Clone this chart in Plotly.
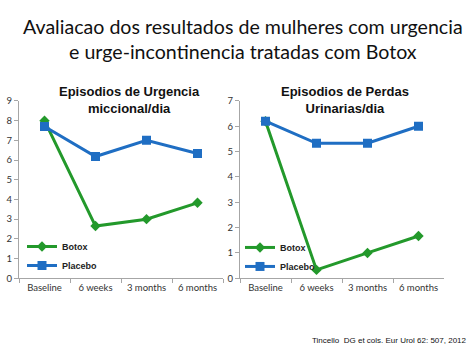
import plotly.graph_objects as go

categories = ["Baseline", "6 weeks", "3 months", "6 months"]
urg_botox = [8.0, 2.65, 3.0, 3.83]
urg_placebo = [7.7, 6.18, 7.0, 6.33]
perd_botox = [6.2, 0.33, 1.0, 1.67]
perd_placebo = [6.2, 5.33, 5.33, 6.0]

GREEN = "#23992B"
BLUE = "#1F6EC3"
W, H = 474, 354

def px(x):
    return x / W

def py(y):
    return 1 - y / H

fig = go.Figure()
fig.add_trace(go.Scatter(x=categories, y=urg_botox, name="<b>Botox</b>", mode="lines+markers",
                         line=dict(color=GREEN, width=3), marker=dict(symbol="diamond", size=8, color=GREEN),
                         xaxis="x", yaxis="y", legend="legend"))
fig.add_trace(go.Scatter(x=categories, y=urg_placebo, name="<b>Placebo</b>", mode="lines+markers",
                         line=dict(color=BLUE, width=3), marker=dict(symbol="square", size=9, color=BLUE),
                         xaxis="x", yaxis="y", legend="legend"))
fig.add_trace(go.Scatter(x=categories, y=perd_botox, name="<b>Botox</b>", mode="lines+markers",
                         line=dict(color=GREEN, width=3), marker=dict(symbol="diamond", size=8, color=GREEN),
                         xaxis="x2", yaxis="y2", legend="legend2"))
fig.add_trace(go.Scatter(x=categories, y=perd_placebo, name="<b>Placebo</b>", mode="lines+markers",
                         line=dict(color=BLUE, width=3), marker=dict(symbol="square", size=9, color=BLUE),
                         xaxis="x2", yaxis="y2", legend="legend2"))

tickfont = dict(family="Lato", size=9.5, color="#333333")
xcommon = dict(type="category", range=[-0.5, 3.5], showline=True, linecolor="#A6A6A6", linewidth=1,
               ticks="outside", ticklen=4, tickcolor="#A6A6A6", tickson="boundaries",
               showgrid=False, zeroline=False, tickfont=tickfont, fixedrange=True)
ycommon = dict(showline=True, linecolor="#A6A6A6", linewidth=1, ticks="outside", ticklen=4,
               tickcolor="#A6A6A6", showgrid=False, zeroline=False, dtick=1, tickfont=tickfont,
               fixedrange=True)

legend_common = dict(font=dict(family="Liberation Sans", size=9, color="#222222"), bgcolor="rgba(0,0,0,0)",
                     itemwidth=30, tracegroupgap=0, xanchor="left", yanchor="middle")

fig.update_layout(
    width=W, height=H, margin=dict(l=0, r=0, t=0, b=0),
    paper_bgcolor="white", plot_bgcolor="white",
    xaxis=dict(domain=[px(19), px(223)], anchor="y", **xcommon),
    yaxis=dict(domain=[py(281), py(98)], range=[0, 9], anchor="x", **ycommon),
    xaxis2=dict(domain=[px(240), px(444)], anchor="y2", **xcommon),
    yaxis2=dict(domain=[py(281), py(98)], range=[0, 7], anchor="x2", **ycommon),
    legend=dict(x=px(22), y=py(258), **legend_common),
    legend2=dict(x=px(240), y=py(259), **legend_common),
    showlegend=True,
)

fig.add_annotation(text="Avaliacao dos resultados de mulheres com urgencia<br>e urge-incontinencia tratadas com Botox",
                   x=px(243), y=py(34), xref="paper", yref="paper", showarrow=False,
                   xanchor="center", yanchor="middle",
                   font=dict(family="Lato", size=19.6, color="#111111"), align="center")
fig.add_annotation(text="<b>Episodios de Urgencia<br>miccional/dia</b>", x=px(129), y=py(97),
                   xref="paper", yref="paper", showarrow=False, xanchor="center", yanchor="middle",
                   font=dict(family="Liberation Sans", size=13, color="#111111"), align="center")
fig.add_annotation(text="<b>Episodios de Perdas<br>Urinarias/dia</b>", x=px(345), y=py(97),
                   xref="paper", yref="paper", showarrow=False, xanchor="center", yanchor="middle",
                   font=dict(family="Liberation Sans", size=13, color="#111111"), align="center")
fig.add_annotation(text="Tincello  DG et cols. Eur Urol 62: 507, 2012", x=px(469), y=py(345),
                   xref="paper", yref="paper", showarrow=False, xanchor="right", yanchor="middle",
                   font=dict(family="Liberation Sans", size=8, color="#111111"))

fig.write_html("out.html")
